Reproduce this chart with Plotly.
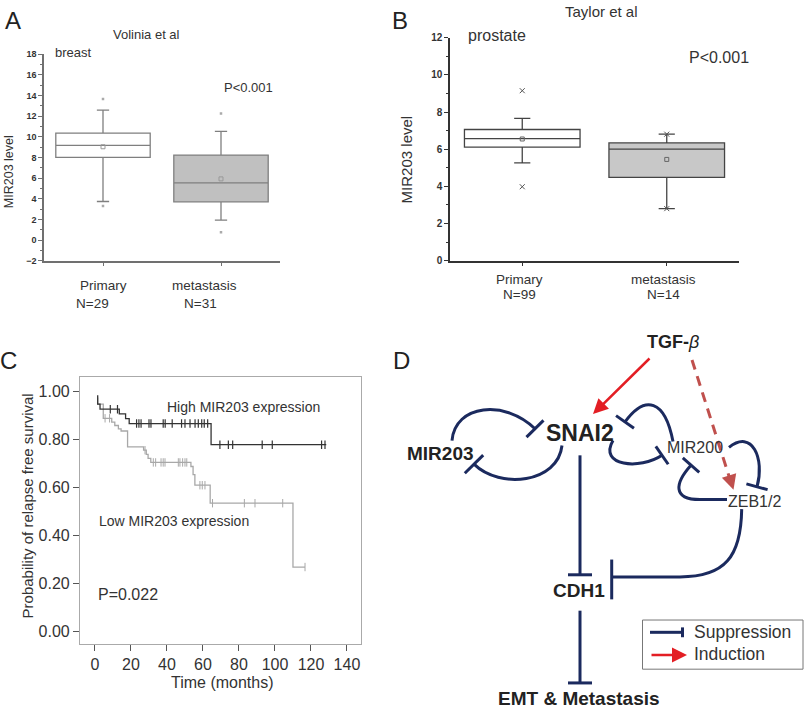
import math
import plotly.graph_objects as go

FONT = "Liberation Sans, Arial, sans-serif"
NAVY = "#1b2a5e"
RED = "#e31e24"
DRED = "#c0504d"

# ---------------- Panel A data (Volinia et al, breast) ----------------
a_categories = ["Primary", "metastasis"]
a_n = ["N=29", "N=31"]
a_q1 = [8.00, 3.70]
a_median = [9.16, 5.54]
a_q3 = [10.36, 8.23]
a_lower = [3.73, 1.93]
a_upper = [12.58, 10.52]
a_mean = [9.03, 5.92]
a_out_low = [3.29, 0.76]
a_out_high = [13.65, 12.26]

# ---------------- Panel B data (Taylor et al, prostate) ----------------
b_categories = ["Primary", "metastasis"]
b_n = ["N=99", "N=14"]
b_q1 = [6.11, 4.48]
b_median = [6.57, 6.00]
b_q3 = [7.06, 6.34]
b_lower = [5.26, 2.80]
b_upper = [7.66, 6.81]
b_mean = [6.55, 5.45]
b_min = [3.98, 2.80]
b_max = [9.15, 6.81]

# ---------------- Panel C data (Kaplan-Meier) ----------------
high_t = [1.5, 1.5, 2.8, 13.5, 17, 19, 64.5, 128.5]
high_s = [0.984, 0.947, 0.926, 0.906, 0.887, 0.866, 0.778, 0.778]
high_cens = [8.5, 12.5, 23.1, 24.4, 25.6, 30, 31.1, 37.9, 39, 42.9, 48.1, 50,
             52.8, 55.6, 57.4, 59.3, 60.7, 62.6, 69.4, 74.1, 76.5, 92.9, 98.5,
             125.9, 127.8]
low_t = [1.5, 1.5, 4.6, 9.3, 11, 13, 14.5, 18.1, 27, 28.5, 29.5, 31, 53.3,
         54.5, 55.5, 64, 110, 116.7]
low_s = [0.975, 0.947, 0.888, 0.872, 0.858, 0.844, 0.835, 0.769, 0.755, 0.738,
         0.721, 0.704, 0.687, 0.653, 0.609, 0.534, 0.268, 0.268]
low_cens = [5.6, 8.1, 27.8, 32.4, 33.7, 36.7, 37.9, 38.9, 46.3, 47.2, 48.7, 50,
            51, 58.3, 59.6, 61.1, 65.3, 83, 88.9, 104.3, 116.7]


def surv_at(ts, ss, t):
    val = ss[0]
    for ti, si in zip(ts, ss):
        if ti <= t:
            val = si
    return val


fig = go.Figure()

# ---- Panel A boxes ----
a_fill = ["white", "#c0c0c0"]
for i in range(2):
    fig.add_trace(go.Box(
        x=[i], q1=[a_q1[i]], median=[a_median[i]], q3=[a_q3[i]],
        lowerfence=[a_lower[i]], upperfence=[a_upper[i]], orientation="v",
        width=0.8, whiskerwidth=0.13, fillcolor=a_fill[i],
        line=dict(color="#7f7f7f", width=1.3), boxpoints=False,
        xaxis="x", yaxis="y", hoverinfo="skip"))
fig.add_trace(go.Scatter(x=[0, 1], y=a_mean, mode="markers", xaxis="x", yaxis="y",
                         marker=dict(symbol="square-open", size=4, color="#999",
                                     line=dict(width=1))))
fig.add_trace(go.Scatter(x=[0, 1, 0, 1], y=a_out_low + a_out_high, mode="markers",
                         xaxis="x", yaxis="y",
                         marker=dict(symbol="square", size=2.5, color="#aaa")))

# ---- Panel B boxes ----
b_fill = ["white", "#c8c8c8"]
for i in range(2):
    fig.add_trace(go.Box(
        x=[i], q1=[b_q1[i]], median=[b_median[i]], q3=[b_q3[i]],
        lowerfence=[b_lower[i]], upperfence=[b_upper[i]], orientation="v",
        width=0.8, whiskerwidth=0.14, fillcolor=b_fill[i],
        line=dict(color="#444", width=1.3), boxpoints=False,
        xaxis="x2", yaxis="y2", hoverinfo="skip"))
fig.add_trace(go.Scatter(x=[0, 1], y=b_mean, mode="markers", xaxis="x2", yaxis="y2",
                         marker=dict(symbol="square-open", size=4, color="#666",
                                     line=dict(width=1))))
fig.add_trace(go.Scatter(x=[0, 1, 0, 1], y=b_min + b_max, mode="markers",
                         xaxis="x2", yaxis="y2",
                         marker=dict(symbol="x-thin-open", size=5, color="#555",
                                     line=dict(width=1, color="#555"))))

# ---- Panel C KM curves ----
LOWC = "#a8a8a8"
HIGHC = "#333333"
fig.add_trace(go.Scatter(x=low_t, y=low_s, mode="lines", line_shape="hv",
                         line=dict(color=LOWC, width=1.3), xaxis="x3", yaxis="y3"))
fig.add_trace(go.Scatter(x=low_cens, y=[surv_at(low_t, low_s, t) for t in low_cens],
                         mode="markers", xaxis="x3", yaxis="y3",
                         marker=dict(symbol="line-ns-open", size=6, color=LOWC,
                                     line=dict(width=1, color=LOWC))))
fig.add_trace(go.Scatter(x=high_t, y=high_s, mode="lines", line_shape="hv",
                         line=dict(color=HIGHC, width=1.3), xaxis="x3", yaxis="y3"))
fig.add_trace(go.Scatter(x=high_cens, y=[surv_at(high_t, high_s, t) for t in high_cens],
                         mode="markers", xaxis="x3", yaxis="y3",
                         marker=dict(symbol="line-ns-open", size=6, color=HIGHC,
                                     line=dict(width=1.2, color=HIGHC))))

# pixel overlay axis for the diagram / free text
fig.add_trace(go.Scatter(x=[], y=[], xaxis="x4", yaxis="y4"))

W, H = 805, 715


def px(x):
    return x / W


def py(y):
    return 1 - y / H


ax_common = dict(showgrid=False, zeroline=False, fixedrange=True)
layout = dict(
    width=W, height=H, margin=dict(l=0, r=0, t=0, b=0),
    paper_bgcolor="white", plot_bgcolor="rgba(0,0,0,0)", showlegend=False,
    font=dict(family=FONT, color="#333"),
    xaxis=dict(domain=[px(44), px(280)], range=[-0.5, 1.5], anchor="y",
               showline=True, linecolor="#707070", linewidth=1.5, ticks="outside",
               tickvals=[0, 1], ticklen=4, tickcolor="#707070",
               showticklabels=False, **ax_common),
    yaxis=dict(domain=[py(259), py(49)], range=[-2, 18], anchor="x",
               showline=True, linecolor="#707070", linewidth=1.5, ticks="outside",
               tick0=0, dtick=2, ticklen=4, tickcolor="#707070",
               minor=dict(dtick=1, ticks="outside", ticklen=2, tickcolor="#707070"),
               tickfont=dict(size=9, family=FONT, color="#333", weight="bold"),
               **ax_common),
    xaxis2=dict(domain=[px(450), px(739)], range=[-0.5, 1.5], anchor="y2",
                showline=True, linecolor="#333", linewidth=1.5, ticks="outside",
                tickvals=[0, 1], ticklen=4, tickcolor="#333",
                showticklabels=False, **ax_common),
    yaxis2=dict(domain=[py(259), py(32.3)], range=[0, 12], anchor="x2",
                showline=True, linecolor="#333", linewidth=1.5, ticks="outside",
                tick0=0, dtick=2, ticklen=4, tickcolor="#333",
                minor=dict(dtick=1, ticks="outside", ticklen=2, tickcolor="#333"),
                tickfont=dict(size=10, family=FONT, color="#333", weight="bold"),
                **ax_common),
    xaxis3=dict(domain=[px(80), px(361)], range=[-8.33, 147.8], anchor="y3",
                showline=True, mirror=True, linecolor="#aaa", linewidth=1.2,
                ticks="outside", tickvals=list(range(0, 141, 20)), ticklen=6,
                tickcolor="#555", tickfont=dict(size=16, family=FONT, color="#333"),
                **ax_common),
    yaxis3=dict(domain=[py(649), py(377)], range=[-0.0533, 1.0615], anchor="x3",
                showline=True, mirror=True, linecolor="#aaa", linewidth=1.2,
                ticks="outside", tickvals=[0, 0.2, 0.4, 0.6, 0.8, 1.0],
                tickformat=".2f", ticklen=6, tickcolor="#555",
                tickfont=dict(size=16, family=FONT, color="#333"), **ax_common),
    xaxis4=dict(domain=[0, 1], range=[0, W], anchor="y4", visible=False, **ax_common),
    yaxis4=dict(domain=[0, 1], range=[H, 0], anchor="x4", visible=False, **ax_common),
)
fig.update_layout(**layout)

ann = []


def text(x, y, s, size, bold=False, color="#333", xanchor="center", angle=0,
         xref="x4", yref="y4", italic=False):
    ann.append(dict(x=x, y=y, xref=xref, yref=yref, text=s, showarrow=False,
                    xanchor=xanchor, yanchor="middle", textangle=angle,
                    font=dict(family=FONT, size=size, color=color,
                              weight="bold" if bold else "normal",
                              style="italic" if italic else "normal")))


# panel labels
text(13, 15, "A", 24, color="#222")
text(400, 15, "B", 24, color="#222")
text(8, 361, "C", 24, color="#222")
text(401, 361, "D", 24, color="#222")

# Panel A texts
text(146, 29, "Volinia et al", 13)
text(53, 47, "breast", 13, xanchor="left")
text(222, 83, "P<0.001", 13, xanchor="left")
text(9, 169, "MIR203 level", 12.5, angle=-90)
a_lab_shift = [0, -17]
a_n_shift = [-11, -21]
for i in range(2):
    ann.append(dict(x=i, y=284, xref="x", yref="y4", text=a_categories[i],
                    showarrow=False, xshift=a_lab_shift[i], yanchor="middle",
                    font=dict(family=FONT, size=13.5, color="#333")))
    ann.append(dict(x=i, y=303, xref="x", yref="y4", text=a_n[i],
                    showarrow=False, xshift=a_n_shift[i], yanchor="middle",
                    font=dict(family=FONT, size=13.5, color="#333")))

# Panel B texts
text(601, 6, "Taylor et al", 15)
text(466, 30, "prostate", 16, xanchor="left")
text(687, 52, "P<0.001", 16, xanchor="left")
text(406, 156, "MIR203 level", 15, angle=-90)
for i in range(2):
    ann.append(dict(x=i, y=278, xref="x2", yref="y4", text=b_categories[i],
                    showarrow=False, xshift=-3, yanchor="middle",
                    font=dict(family=FONT, size=13.5, color="#333")))
    ann.append(dict(x=i, y=293, xref="x2", yref="y4", text=b_n[i],
                    showarrow=False, xshift=-3, yanchor="middle",
                    font=dict(family=FONT, size=13.5, color="#333")))

# Panel C texts
text(243, 408, "High MIR203 expression", 14)
text(174, 524, "Low MIR203 expression", 14)
text(96, 599, "P=0.022", 16, xanchor="left")
text(222, 688, "Time (months)", 16)
text(27, 509, "Probability of relapse free survival", 15, angle=-90)

# Panel D texts
ann.append(dict(x=673, y=342, xref="x4", yref="y4",
                text="<b>TGF-</b><i>β</i>", showarrow=False,
                font=dict(family=FONT, size=18, color="#222")))
text(580, 434, "SNAI2", 23, bold=True, color="#222")
text(440, 455, "MIR203", 19, bold=True, color="#222")
text(695, 449, "MIR200", 16, color="#333")
text(754, 504, "ZEB1/2", 16, color="#333")
text(579, 594, "CDH1", 19, bold=True, color="#222")
text(579, 704, "EMT &amp; Metastasis", 19, bold=True, color="#222")
text(692, 637, "Suppression", 17.5, xanchor="left")
text(692, 659, "Induction", 17.5, xanchor="left")

# arrows
ann.append(dict(x=593, y=415, ax=651, ay=357, xref="x4", yref="y4",
                axref="x4", ayref="y4", text="", showarrow=True, arrowhead=2,
                arrowsize=1.2, arrowwidth=2.5, arrowcolor=RED))
ann.append(dict(x=733.5, y=492, ax=729.5, ay=479, xref="x4", yref="y4",
                axref="x4", ayref="y4", text="", showarrow=True, arrowhead=2,
                arrowsize=1.2, arrowwidth=2.5, arrowcolor=DRED))
ann.append(dict(x=687, y=660, ax=650, ay=660, xref="x4", yref="y4",
                axref="x4", ayref="y4", text="", showarrow=True, arrowhead=2,
                arrowsize=1.2, arrowwidth=2.5, arrowcolor=RED))

shapes = []


def line(x0, y0, x1, y1, color=NAVY, width=3, dash="solid"):
    shapes.append(dict(type="line", x0=x0, y0=y0, x1=x1, y1=y1, xref="x4",
                       yref="y4", line=dict(color=color, width=width, dash=dash)))


def tbar(end, prev, half):
    dx, dy = end[0] - prev[0], end[1] - prev[1]
    L = math.hypot(dx, dy)
    nx, ny = -dy / L, dx / L
    line(end[0] + nx * half, end[1] + ny * half, end[0] - nx * half, end[1] - ny * half)


def curve(p0, p1, p2, p3, half=12, pre=None):
    if pre is not None:
        path = f"M {pre[0]},{pre[1]} L {p0[0]},{p0[1]} "
    else:
        path = f"M {p0[0]},{p0[1]} "
    path += f"C {p1[0]},{p1[1]} {p2[0]},{p2[1]} {p3[0]},{p3[1]}"
    shapes.append(dict(type="path", path=path, xref="x4", yref="y4",
                       line=dict(color=NAVY, width=3), fillcolor="rgba(0,0,0,0)"))
    tbar(p3, p2, half)


# MIR203 <-> SNAI2
curve((452, 442), (455, 405), (505, 400), (535, 430), half=12)
curve((562, 447), (558, 485), (500, 492), (474, 466), half=13)
# SNAI2 <-> MIR200
curve((673, 443), (665, 400), (645, 395), (625, 423), half=11)
curve((613, 442), (598, 468), (640, 472), (662, 457), half=11)
# MIR200 <-> ZEB1/2
curve((700, 502), (672, 502), (675, 485), (691, 467), half=11, pre=(727, 502))
curve((729, 449), (752, 430), (765, 460), (757, 489), half=11)
# ZEB1/2 -| CDH1
shapes.append(dict(type="path", path="M 741.7,511.7 C 741,560 725,580.7 680,580.7 L 612,580.7",
                   xref="x4", yref="y4", line=dict(color=NAVY, width=3),
                   fillcolor="rgba(0,0,0,0)"))
line(611.7, 563, 611.7, 603.5)
# SNAI2 -| CDH1 -| EMT
line(580, 457, 580, 578.5)
line(568, 578.5, 592, 578.5)
line(580, 615, 580, 688.5)
line(568, 688.5, 592, 688.5)
# TGF-beta dashed induction to ZEB
line(692, 360, 730.5, 483, color=DRED, width=3, dash="10px,7px")
# legend box
shapes.append(dict(type="rect", x0=642.5, y0=624.5, x1=803, y1=674.5, xref="x4",
                   yref="y4", line=dict(color="#777", width=1)))
line(650, 637, 682, 637)
line(682.5, 632, 682.5, 642)

fig.update_layout(annotations=ann, shapes=shapes)
fig.write_html("out.html", config={"displayModeBar": False},
               post_script="document.body.style.margin='0';document.body.style.overflow='hidden';")
